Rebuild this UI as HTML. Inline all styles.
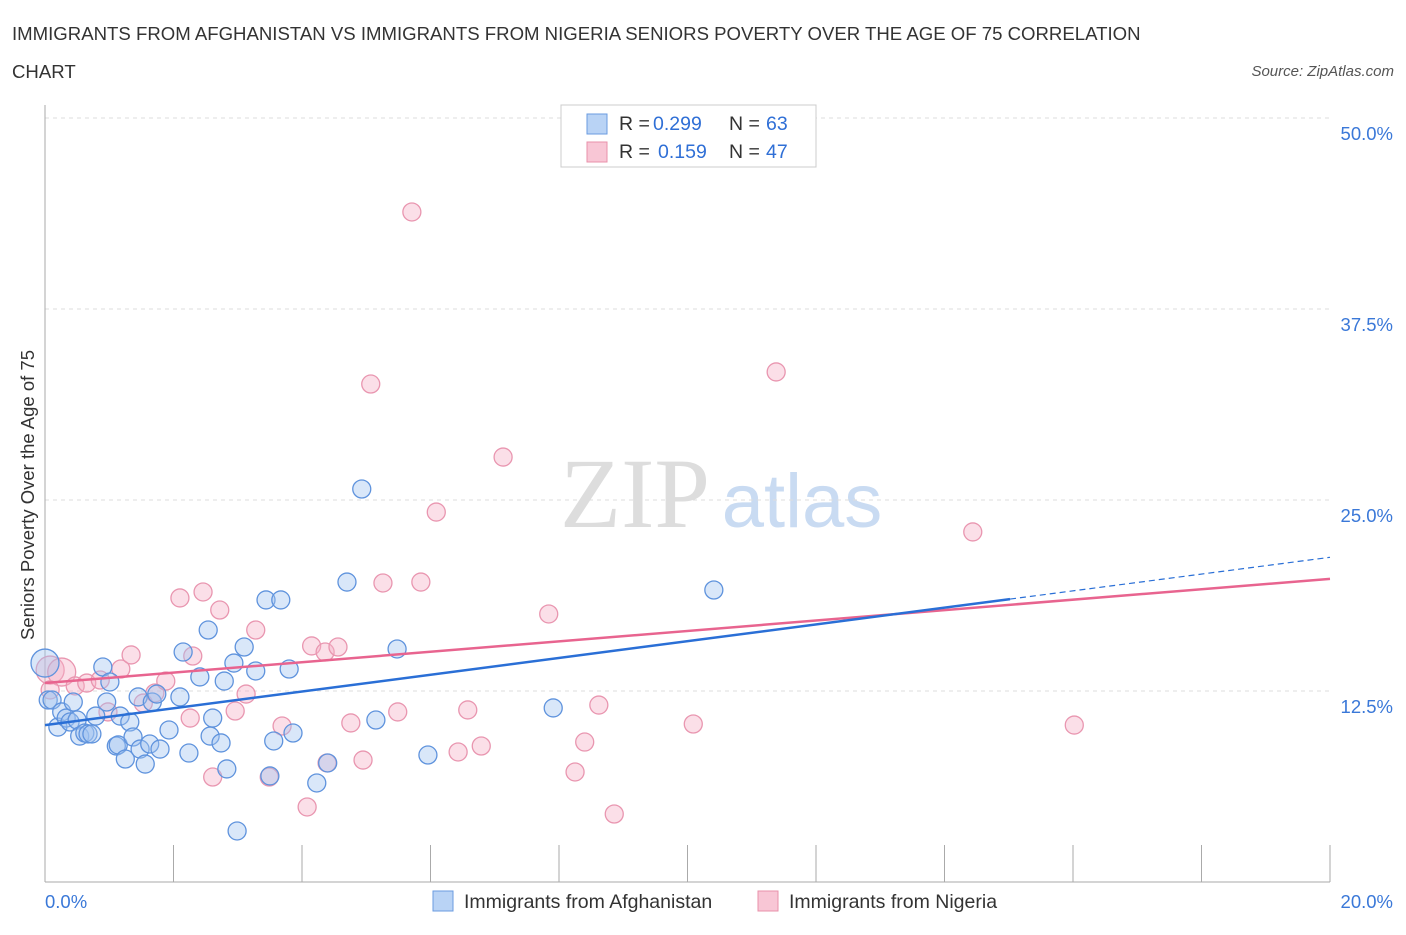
<!DOCTYPE html>
<html><head><meta charset="utf-8"><style>
body{margin:0;background:#fff;font-family:"Liberation Sans",sans-serif;}
</style></head><body>
<svg width="1406" height="930" xmlns="http://www.w3.org/2000/svg">
<text x="12" y="40" font-size="18.6" fill="#333">IMMIGRANTS FROM AFGHANISTAN VS IMMIGRANTS FROM NIGERIA SENIORS POVERTY OVER THE AGE OF 75 CORRELATION</text>
<text x="12" y="78" font-size="18.6" fill="#333">CHART</text>
<text x="1394" y="76" font-size="15" fill="#555" font-style="italic" text-anchor="end">Source: ZipAtlas.com</text>
<g><text x="635" y="527" font-size="100" fill="#ddd" font-family="Liberation Serif,serif" text-anchor="middle">ZIP</text><text x="802" y="527" font-size="76" fill="#c9dbf2" text-anchor="middle">atlas</text></g>
<g id="grid"></g><g id="axes"></g><g id="marks"></g>
<g>
<rect x="561" y="105" width="255" height="62" fill="#fff" stroke="#ccc"/>
<rect x="587" y="114" width="20" height="20" fill="#b9d3f5" stroke="#6a9be0"/>
<text x="619" y="130" font-size="19.5" fill="#333">R =</text><text x="653" y="130" font-size="19.5" fill="#2f6fd6">0.299</text>
<text x="729" y="130" font-size="19.5" fill="#333">N =</text><text x="766" y="130" font-size="19.5" fill="#2f6fd6">63</text>
<rect x="587" y="142" width="20" height="20" fill="#f8c6d5" stroke="#e890aa"/>
<text x="619" y="158" font-size="19.5" fill="#333">R =</text><text x="658" y="158" font-size="19.5" fill="#2f6fd6">0.159</text>
<text x="729" y="158" font-size="19.5" fill="#333">N =</text><text x="766" y="158" font-size="19.5" fill="#2f6fd6">47</text>
</g>
<g>
<rect x="433" y="891" width="20" height="20" fill="#b9d3f5" stroke="#6a9be0"/>
<text x="464" y="908" font-size="19.5" fill="#333">Immigrants from Afghanistan</text>
<rect x="758" y="891" width="20" height="20" fill="#f8c6d5" stroke="#e890aa"/>
<text x="789" y="908" font-size="19.5" fill="#333">Immigrants from Nigeria</text>
</g>
<text x="34" y="495" font-size="18.5" fill="#333" text-anchor="middle" transform="rotate(-90 34 495)">Seniors Poverty Over the Age of 75</text>
</svg>
<script>
const yTicks=[12.5,25,37.5,50];
const yTickLabels=["12.5%","25.0%","37.5%","50.0%"];
const xTickLabels=["0.0%","20.0%"];
const afgX=[0,0.05,0.11,0.20,0.26,0.33,0.39,0.44,0.50,0.54,0.62,0.67,0.73,0.79,0.90,0.96,1.01,1.11,1.14,1.17,1.25,1.32,1.37,1.45,1.48,1.56,1.63,1.67,1.74,1.79,1.93,2.10,2.15,2.24,2.41,2.54,2.57,2.61,2.74,2.79,2.83,2.94,2.99,3.10,3.28,3.44,3.50,3.56,3.67,3.80,3.86,4.23,4.40,4.70,4.93,5.15,5.48,5.96,7.91,10.41];
const afgY=[14.33,11.91,11.91,10.14,11.13,10.73,10.47,11.78,10.60,9.55,9.75,9.69,9.69,10.86,14.07,11.78,13.09,8.90,8.97,10.86,8.05,10.47,9.49,12.11,8.70,7.72,9.03,11.78,12.30,8.70,9.95,12.11,15.05,8.44,13.42,16.49,9.55,10.73,9.10,13.15,7.40,14.33,3.34,15.38,13.81,18.46,6.94,9.23,18.46,13.94,9.75,6.48,7.79,19.63,25.72,10.60,15.25,8.31,11.39,19.11];
const nigX=[0.08,0.26,0.08,0.47,0.65,0.86,1.18,1.34,0.98,1.53,1.71,1.88,2.10,2.30,2.46,2.26,2.61,2.72,2.96,3.13,3.28,3.49,3.69,4.08,4.15,4.36,4.39,4.56,4.76,4.95,5.07,5.26,5.49,5.71,5.85,6.09,6.43,6.58,6.79,7.13,7.84,8.25,8.40,8.62,8.86,10.09,11.38,14.44,16.02];
const nigY=[13.87,13.74,12.57,12.83,13.02,13.22,13.94,14.86,11.13,11.71,12.37,13.15,18.59,14.79,18.98,10.73,6.87,17.80,11.19,12.30,16.49,6.87,10.21,4.91,15.45,15.05,7.79,15.38,10.41,7.98,32.59,19.57,11.13,43.85,19.63,24.21,8.51,11.26,8.90,27.81,17.54,7.20,9.16,11.58,4.45,10.34,33.38,22.91,10.27];
const afgTrend=[10.27,0.549,15.02];
const nigTrend=[13.02,0.341];
const NS="http://www.w3.org/2000/svg";
const X=v=>45+v/20*1285, Y=v=>882-v/50*764;
function mk(t,a,p){const e=document.createElementNS(NS,t);for(const k in a)e.setAttribute(k,a[k]);document.getElementById(p).appendChild(e);return e;}
yTicks.forEach((t,i)=>{
 const g=mk('line',{x1:45,x2:1330,y1:Y(t),y2:Y(t),stroke:'#ddd','stroke-dasharray':'4,4'},'grid');
 
 
 const l=mk('text',{x:1393,y:Y(t)+22,'font-size':18.5,fill:'#3a78d8','text-anchor':'end'},'axes');
 l.textContent=yTickLabels[i];
 
 
});
mk('line',{x1:45,x2:45,y1:105,y2:882,stroke:'#aaa'},'axes');
mk('line',{x1:45,x2:1330,y1:882,y2:882,stroke:'#aaa'},'axes');
for(let i=0;i<=10;i++){mk('line',{x1:X(i*2),x2:X(i*2),y1:845,y2:882,stroke:'#aaa'},'axes');}
xTickLabels.forEach((s,i)=>{const l=mk('text',{x:i?1393:45,y:908,'font-size':18.5,fill:'#3a78d8','text-anchor':i?'end':'start'},'axes');l.textContent=s;
 
 });
function dots(xs,ys,f,s,nm,nBig){xs.forEach((x,i)=>{const r=i<nBig?14:9;
 const c=mk('circle',{cx:X(x),cy:Y(ys[i]),r:r,fill:f,stroke:s,'stroke-width':1.3},'marks');
 
 });}
dots(nigX,nigY,'rgba(245,175,198,0.4)','#e996b0','nigeria-point',2);
dots(afgX,afgY,'rgba(160,195,240,0.4)','#5f93dd','afghanistan-point',1);
let t=mk('line',{x1:X(0),y1:Y(nigTrend[0]),x2:X(20),y2:Y(nigTrend[0]+20*nigTrend[1]),stroke:'#e8648f','stroke-width':2.5},'marks');


t=mk('line',{x1:X(0),y1:Y(afgTrend[0]),x2:X(afgTrend[2]),y2:Y(afgTrend[0]+afgTrend[2]*afgTrend[1]),stroke:'#2a6fd6','stroke-width':2.5},'marks');


t=mk('line',{x1:X(afgTrend[2]),y1:Y(afgTrend[0]+afgTrend[2]*afgTrend[1]),x2:X(20),y2:Y(afgTrend[0]+20*afgTrend[1]),stroke:'#2a6fd6','stroke-width':1.2,'stroke-dasharray':'6,4'},'marks');


</script>
</body></html>
